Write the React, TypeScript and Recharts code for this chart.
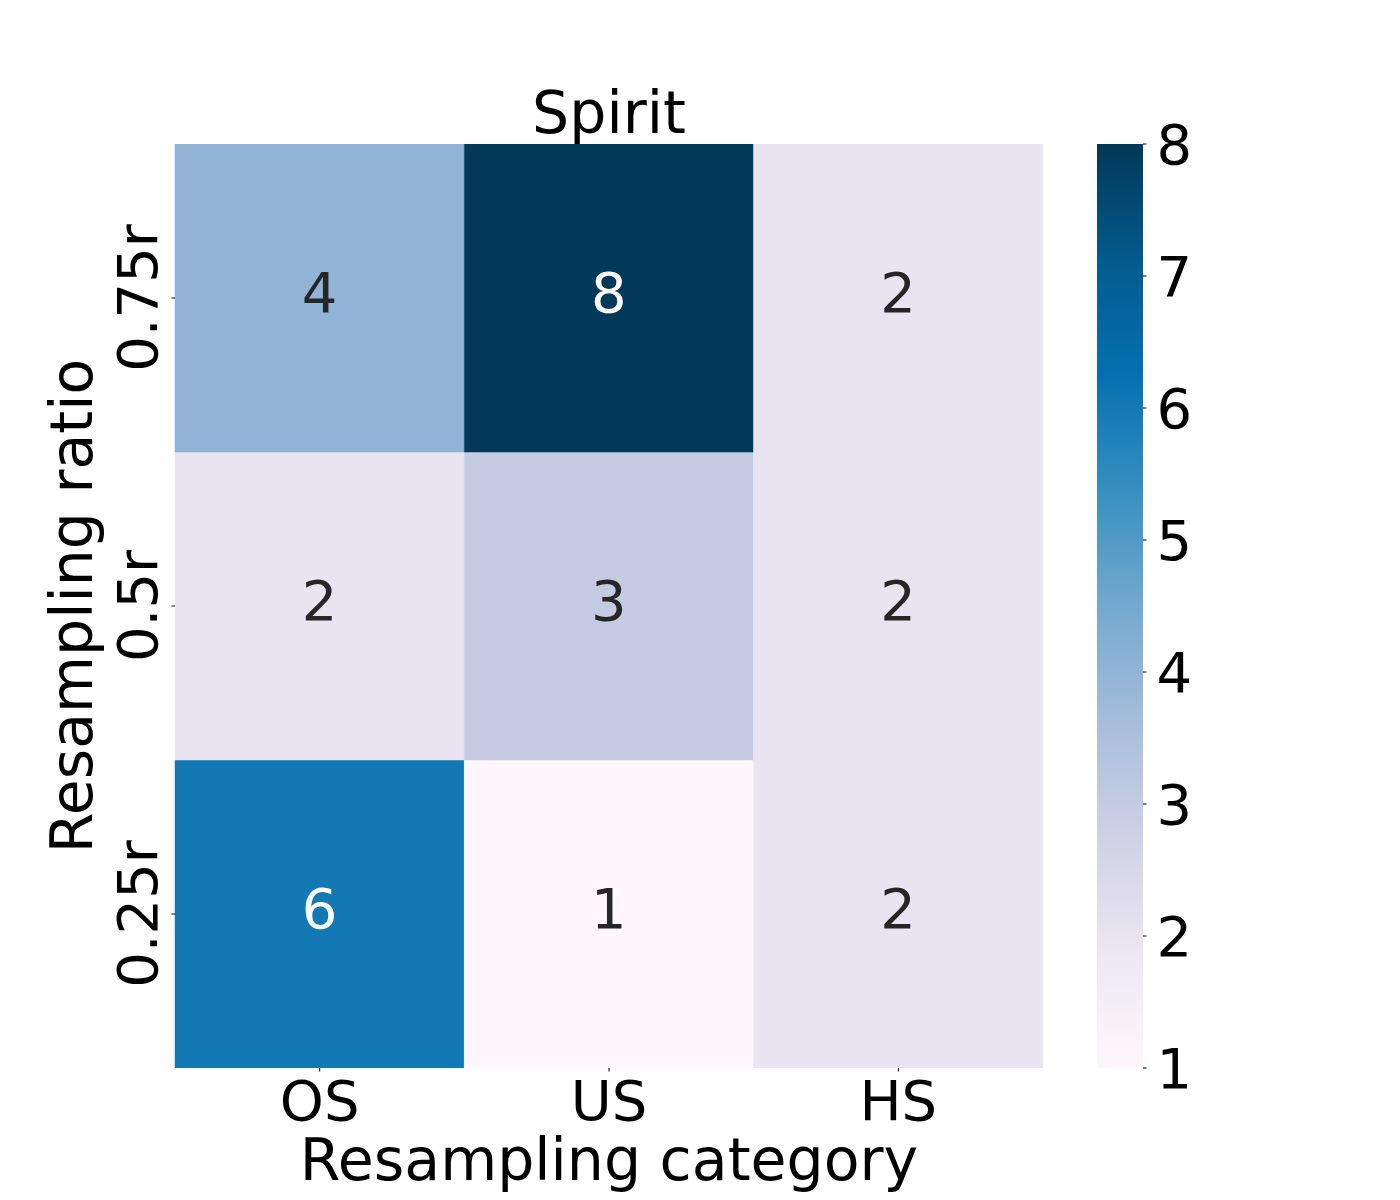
import React from 'react';
import { BarChart, Bar, XAxis, YAxis, Cell, LabelList } from 'recharts';

// ---- data ----
const categories = ['OS', 'US', 'HS'];
const rowLabels = ['0.25r', '0.5r', '0.75r']; // bottom -> top
const row025 = [6, 1, 2];
const row05 = [2, 3, 2];
const row075 = [4, 8, 2];
const colorbarTicks = [1, 2, 3, 4, 5, 6, 7, 8];
const vMin = 1;
const vMax = 8;
const title = 'Spirit';
const xLabel = 'Resampling category';
const yLabel = 'Resampling ratio';

const PUBU = ['#fff7fb', '#ece7f2', '#d0d1e6', '#a6bddb', '#74a9cf', '#3690c0', '#0570b0', '#045a8d', '#023858'];

const hex2rgb = (h: string) => [1, 3, 5].map((i) => parseInt(h.slice(i, i + 2), 16));
function pubu(v: number): string {
  const t = Math.max(0, Math.min(1, (v - vMin) / (vMax - vMin)));
  const p = t * (PUBU.length - 1);
  const i = Math.min(PUBU.length - 2, Math.floor(p));
  const f = p - i;
  const a = hex2rgb(PUBU[i]);
  const b = hex2rgb(PUBU[i + 1]);
  const c = a.map((x, k) => Math.round(x + (b[k] - x) * f));
  return `rgb(${c[0]},${c[1]},${c[2]})`;
}
function isDark(v: number): boolean {
  const t = (v - vMin) / (vMax - vMin);
  return t > 0.6;
}

const rows = [row025, row05, row075];
const tableData = categories.map((c, i) => {
  const d: any = { cat: c };
  rows.forEach((r, ri) => {
    d[`h${ri}`] = 1;
    d[`v${ri}`] = r[i];
  });
  return d;
});
const cbData = [{ name: 'cb', range: [vMin, vMax] }];

const FONT = 56;
const LABEL_FONT = 58.5;

const renderAnnot = (props: any) => {
  const { x, y, width, height, value } = props.viewBox ? { ...props.viewBox, value: props.value } : props;
  return (
    <text
      x={x + width / 2}
      y={y + height / 2 + 14}
      textAnchor="middle"
      fontSize={FONT}
      fill={isDark(Number(value)) ? '#ffffff' : '#262626'}
    >
      {value}
    </text>
  );
};

const XTick = (props: any) => {
  const { x, y, payload } = props;
  return (
    <text x={x} y={y + 48.5} textAnchor="middle" fontSize={FONT} fill="#000">
      {payload.value}
    </text>
  );
};

const YTick = (props: any) => {
  const { x, y, payload } = props;
  const idx = Math.round(payload.value - 0.5);
  const tx = x - 14.5;
  return (
    <text x={tx} y={y} transform={`rotate(-90 ${tx} ${y})`} textAnchor="middle" fontSize={FONT} fill="#000">
      {rowLabels[idx]}
    </text>
  );
};

const CbShape = (props: any) => {
  const { x, y, width, height } = props;
  return (
    <g>
      <defs>
        <linearGradient id="pubuGrad" x1="0" y1="1" x2="0" y2="0">
          {PUBU.map((c, i) => (
            <stop key={i} offset={`${(i / (PUBU.length - 1)) * 100}%`} stopColor={c} />
          ))}
        </linearGradient>
      </defs>
      <rect x={x} y={y} width={width} height={height} fill="url(#pubuGrad)" />
    </g>
  );
};

export default function App() {
  return (
    <div
      style={{
        position: 'absolute',
        left: 0,
        top: 0,
        width: 1400,
        height: 1200,
        background: '#fff',
        fontFamily: '"DejaVu Sans", sans-serif',
      }}
    >
      <svg width={1400} height={1200} style={{ position: 'absolute', left: 0, top: 0 }}>
        <text x={609} y={133} textAnchor="middle" fontSize={LABEL_FONT} fill="#000" fontFamily='"DejaVu Sans", sans-serif'>
          {title}
        </text>
      </svg>
      <div style={{ position: 'absolute', left: 0, top: 0 }}>
        <BarChart
          width={1400}
          height={1200}
          data={tableData}
          margin={{ top: 144, right: 357, bottom: 32, left: 75 }}
          barCategoryGap={0}
          barGap={0}
        >
          <XAxis
            dataKey="cat"
            type="category"
            height={100}
            axisLine={false}
            tickLine={{ stroke: '#000', strokeWidth: 1 }}
            tickSize={3.5}
            tickMargin={0}
            tick={<XTick />}
            interval={0}
            label={{
              content: (p: any) => {
                const vb = p.viewBox;
                return (
                  <text x={vb.x + vb.width / 2} y={vb.y + 112} textAnchor="middle" fontSize={LABEL_FONT} fill="#000">
                    {xLabel}
                  </text>
                );
              },
            }}
          />
          <YAxis
            type="number"
            domain={[0, 3]}
            ticks={[0.5, 1.5, 2.5]}
            width={100}
            axisLine={false}
            tickLine={{ stroke: '#000', strokeWidth: 1 }}
            tickSize={3.5}
            tickMargin={0}
            tick={<YTick />}
            allowDataOverflow
            label={{
              content: (p: any) => {
                const vb = p.viewBox;
                const lx = vb.x + 17;
                const ly = vb.y + vb.height / 2;
                return (
                  <text x={lx} y={ly} transform={`rotate(-90 ${lx} ${ly})`} textAnchor="middle" fontSize={LABEL_FONT} fill="#000">
                    {yLabel}
                  </text>
                );
              },
            }}
          />
          {rows.map((r, ri) => (
            <Bar key={ri} dataKey={`h${ri}`} stackId="s" isAnimationActive={false}>
              {tableData.map((d, i) => (
                <Cell key={i} fill={pubu(r[i])} stroke={pubu(r[i])} strokeWidth={0.5} />
              ))}
              <LabelList dataKey={`v${ri}`} content={renderAnnot} />
            </Bar>
          ))}
        </BarChart>
      </div>
      <div style={{ position: 'absolute', left: 0, top: 0 }}>
        <BarChart
          width={1400}
          height={1200}
          data={cbData}
          margin={{ top: 144, right: 197, bottom: 132, left: 1097 }}
          barCategoryGap={0}
        >
          <XAxis dataKey="name" hide height={0} />
          <YAxis
            orientation="right"
            type="number"
            domain={[vMin, vMax]}
            ticks={colorbarTicks}
            width={60}
            axisLine={false}
            tickLine={{ stroke: '#000', strokeWidth: 1 }}
            tickSize={3.5}
            tickMargin={10}
            tick={{ fontSize: FONT, fill: '#000' }}
            allowDataOverflow
          />
          <Bar dataKey="range" isAnimationActive={false} shape={<CbShape />} />
        </BarChart>
      </div>
    </div>
  );
}
